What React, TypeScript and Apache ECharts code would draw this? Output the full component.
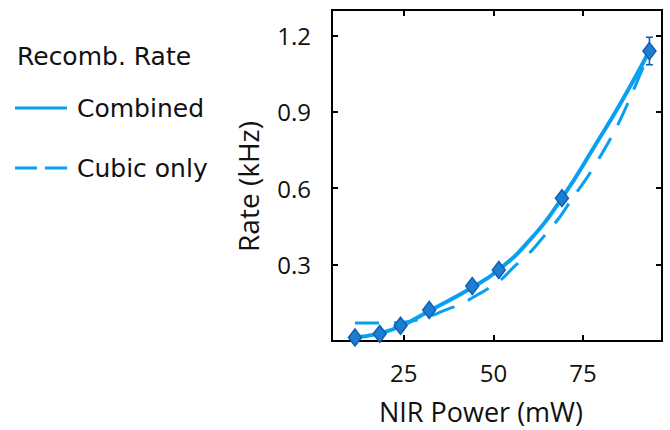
import React, { useEffect, useRef } from "react";
import * as echarts from "echarts";

// Measured data points (NIR power in mW, rate in kHz, error in kHz)
const powerPts = [11.4, 18.3, 24.1, 32.1, 44.1, 51.5, 69.1, 93.5];
const ratePts = [0.014, 0.028, 0.06, 0.122, 0.216, 0.279, 0.561, 1.139];
const rateErr = [0.005, 0.005, 0.008, 0.01, 0.012, 0.012, 0.015, 0.054];

// "Combined" fit curve
const combinedX = [11.4, 18.3, 24.1, 32.1, 44.1, 51.5, 60, 69.1, 78.5, 85.9, 93.5];
const combinedY = [0.014, 0.03, 0.058, 0.118, 0.21, 0.28, 0.394, 0.561, 0.772, 0.945, 1.139];

// "Cubic only" fit curve
const cubicX = [11.4, 19.4, 24, 28, 32, 36, 41.6, 46, 51.7, 56, 60, 64, 68.4, 72, 76, 80, 84, 88, 91, 93.5];
const cubicY = [0.071, 0.071, 0.073, 0.08, 0.095, 0.118, 0.15, 0.185, 0.235, 0.295, 0.345, 0.41, 0.485, 0.56, 0.64, 0.73, 0.83, 0.95, 1.05, 1.13];

const xTicks = [25, 50, 75];
const yTicks = [0.3, 0.6, 0.9, 1.2];

const legendTitle = "Recomb. Rate";
const seriesNames = ["Combined", "Cubic only"];

const LINE_COLOR = "#0a9ff2";
const MARK_COLOR = "#1c7dd3";
const MARK_EDGE = "#0f5fae";
const AXIS_FONT = "Open Sans";
const LEG_FONT = "DejaVu Sans";

export default function App() {
  const ref = useRef<HTMLDivElement>(null);

  useEffect(() => {
    if (!ref.current) return;
    const chart = echarts.init(ref.current, undefined, { renderer: "svg" });

    const zip = (xs: number[], ys: number[]) => xs.map((x, i) => [x, ys[i]]);
    const errData = powerPts.map((x, i) => [x, ratePts[i], rateErr[i]]);

    const axisLineStyle = { color: "#000", width: 2 };
    const commonX = {
      type: "value" as const,
      min: 5,
      max: 97,
      splitLine: { show: false },
      axisLine: { show: true, onZero: false, lineStyle: axisLineStyle },
      axisTick: { show: true, inside: true, length: 6, customValues: xTicks, lineStyle: { color: "#000", width: 2 } },
    };
    const commonY = {
      type: "value" as const,
      min: 0,
      max: 1.3,
      splitLine: { show: false },
      axisLine: { show: true, onZero: false, lineStyle: axisLineStyle },
      axisTick: { show: true, inside: true, length: 6, customValues: yTicks, lineStyle: { color: "#000", width: 2 } },
    };

    chart.setOption({
      animation: false,
      backgroundColor: "#fff",
      title: {
        text: legendTitle,
        left: 12,
        top: 39,
        textStyle: { fontFamily: LEG_FONT, fontSize: 25, fontWeight: "normal", color: "#111" },
      },
      legend: {
        orient: "vertical",
        left: 10,
        top: 88,
        itemWidth: 52,
        itemHeight: 3,
        itemGap: 30,
        textStyle: { fontFamily: LEG_FONT, fontSize: 25, color: "#111", lineHeight: 30, padding: [0, 0, 0, 5] },
        data: [
          { name: seriesNames[0], icon: "path://M0,0H52V3H0Z" },
          { name: seriesNames[1], icon: "path://M0,0H22V3H0Z M30,0H52V3H30Z" },
        ],
      },
      grid: { left: 332, right: 8, top: 10, bottom: 89, containLabel: false },
      xAxis: [
        {
          ...commonX,
          position: "bottom",
          name: "NIR Power (mW)",
          nameLocation: "middle",
          nameGap: 57,
          nameTextStyle: { fontFamily: AXIS_FONT, fontSize: 27, color: "#111", padding: [0, 32, 0, 0] },
          axisLabel: { show: true, customValues: xTicks, margin: 19, fontFamily: AXIS_FONT, fontSize: 24, color: "#111" },
        },
        {
          ...commonX,
          position: "top",
          axisLabel: { show: false },
        },
      ],
      yAxis: [
        {
          ...commonY,
          position: "left",
          name: "Rate (kHz)",
          nameLocation: "middle",
          nameGap: 70,
          nameTextStyle: { fontFamily: AXIS_FONT, fontSize: 28, color: "#111", padding: [0, 22, 0, 0] },
          axisLabel: { show: true, customValues: yTicks, margin: 21, fontFamily: AXIS_FONT, fontSize: 24, color: "#111", formatter: (v: number) => v.toFixed(1) },
        },
        {
          ...commonY,
          position: "right",
          axisLabel: { show: false },
        },
      ],
      series: [
        {
          name: seriesNames[1],
          type: "line",
          data: zip(cubicX, cubicY),
          smooth: 0.3,
          symbol: "none",
          lineStyle: { color: LINE_COLOR, width: 3, type: [24, 15] },
          itemStyle: { color: LINE_COLOR },
          z: 1,
        },
        {
          name: seriesNames[0],
          type: "line",
          data: zip(combinedX, combinedY),
          smooth: 0.5,
          symbol: "none",
          lineStyle: { color: LINE_COLOR, width: 4 },
          itemStyle: { color: LINE_COLOR },
          z: 2,
        },
        {
          name: "err",
          type: "custom",
          data: errData,
          z: 3,
          renderItem: (params: any, api: any) => {
            const x = api.value(0);
            const y = api.value(1);
            const e = api.value(2);
            const top = api.coord([x, y + e]);
            const bot = api.coord([x, y - e]);
            const w = 3.5;
            const style = { stroke: MARK_EDGE, lineWidth: 1.6 };
            return {
              type: "group",
              children: [
                { type: "line", shape: { x1: top[0], y1: top[1], x2: bot[0], y2: bot[1] }, style },
                { type: "line", shape: { x1: top[0] - w, y1: top[1], x2: top[0] + w, y2: top[1] }, style },
                { type: "line", shape: { x1: bot[0] - w, y1: bot[1], x2: bot[0] + w, y2: bot[1] }, style },
              ],
            };
          },
        },
        {
          name: "data",
          type: "scatter",
          data: zip(powerPts, ratePts),
          symbol: "diamond",
          symbolSize: [13, 17],
          itemStyle: { color: MARK_COLOR, borderColor: MARK_EDGE, borderWidth: 1.5, opacity: 1 },
          z: 4,
        },
      ],
    });

    return () => chart.dispose();
  }, []);

  return (
    <div
      ref={ref}
      style={{ position: "absolute", left: 0, top: 0, width: 670, height: 430 }}
    />
  );
}
